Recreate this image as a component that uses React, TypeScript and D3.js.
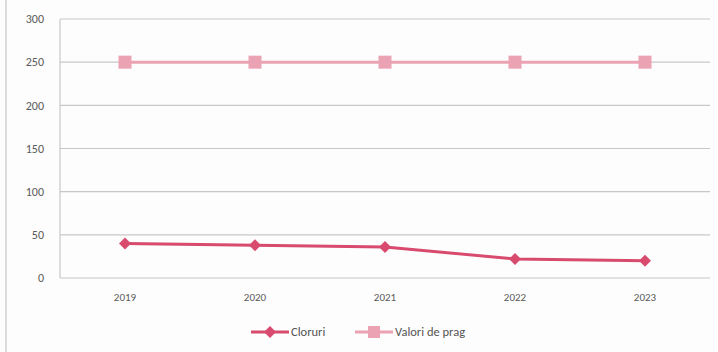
import * as d3 from 'd3'

const years = ['2019', '2020', '2021', '2022', '2023'];
const cloruri = [40, 38, 36, 22, 20];
const valoriPrag = [250, 250, 250, 250, 250];
const yTicks = [0, 50, 100, 150, 200, 250, 300];

function App() {
  const width = 718;
  const height = 352;
  const left = 60;
  const right = 710;
  const top = 19;
  const bottom = 278;

  const x = d3.scaleBand().domain(years).range([left, right]);
  const y = d3.scaleLinear().domain([0, 300]).range([bottom, top]);
  const cx = (d: string) => (x(d) as number) + x.bandwidth() / 2;

  const line = d3.line<number>()
    .x((_, i) => cx(years[i]))
    .y(d => y(d));

  // square diamond like Excel's marker
  const diamond = 'M0,-6L6,0L0,6L-6,0Z';

  const dark = '#d84a6e';
  const light = '#eba2b3';
  const font = 'Calibri, Carlito, "Open Sans", "Liberation Sans", Arial, sans-serif';

  return (
    <svg width={width} height={height} style={{ position: 'absolute', left: 0, top: 0, background: '#fdfdfd' }}>
      <line x1={6} x2={6} y1={0} y2={height} stroke="#cfcfcf" strokeWidth={1.5} />

      {yTicks.map(t => (
        <g key={t}>
          <line x1={left} x2={right} y1={y(t)} y2={y(t)} stroke="#c8c8c8" strokeWidth={1.2} />
          <text x={44} y={y(t)} dy="0.35em" textAnchor="end" fontSize={12} fill="#5a5a5a" fontFamily={font}>{t}</text>
        </g>
      ))}
      <line x1={left} x2={left} y1={top} y2={bottom} stroke="#c8c8c8" strokeWidth={1.2} />

      {years.map(yr => (
        <text key={yr} x={cx(yr)} y={301} textAnchor="middle" fontSize={11} fill="#5a5a5a" fontFamily={font}>{yr}</text>
      ))}

      <path d={line(valoriPrag) as string} fill="none" stroke={light} strokeWidth={3} />
      {valoriPrag.map((v, i) => (
        <rect key={i} x={cx(years[i]) - 6.5} y={y(v) - 6.5} width={13} height={13} fill={light} />
      ))}

      <path d={line(cloruri) as string} fill="none" stroke={dark} strokeWidth={3} />
      {cloruri.map((v, i) => (
        <path key={i} d={diamond} transform={`translate(${cx(years[i])},${y(v)})`} fill={dark} />
      ))}

      <g fontFamily={font} fontSize={12.5} fill="#555">
        <line x1={251} x2={289} y1={332} y2={332} stroke={dark} strokeWidth={3} />
        <path d={diamond} transform="translate(270,332)" fill={dark} />
        <text x={291} y={332} dy="0.35em">Cloruri</text>
        <line x1={355} x2={393} y1={332} y2={332} stroke={light} strokeWidth={3} />
        <rect x={368} y={326} width={12} height={12} fill={light} />
        <text x={395} y={332} dy="0.35em">Valori de prag</text>
      </g>
    </svg>
  );
}

export default App;
